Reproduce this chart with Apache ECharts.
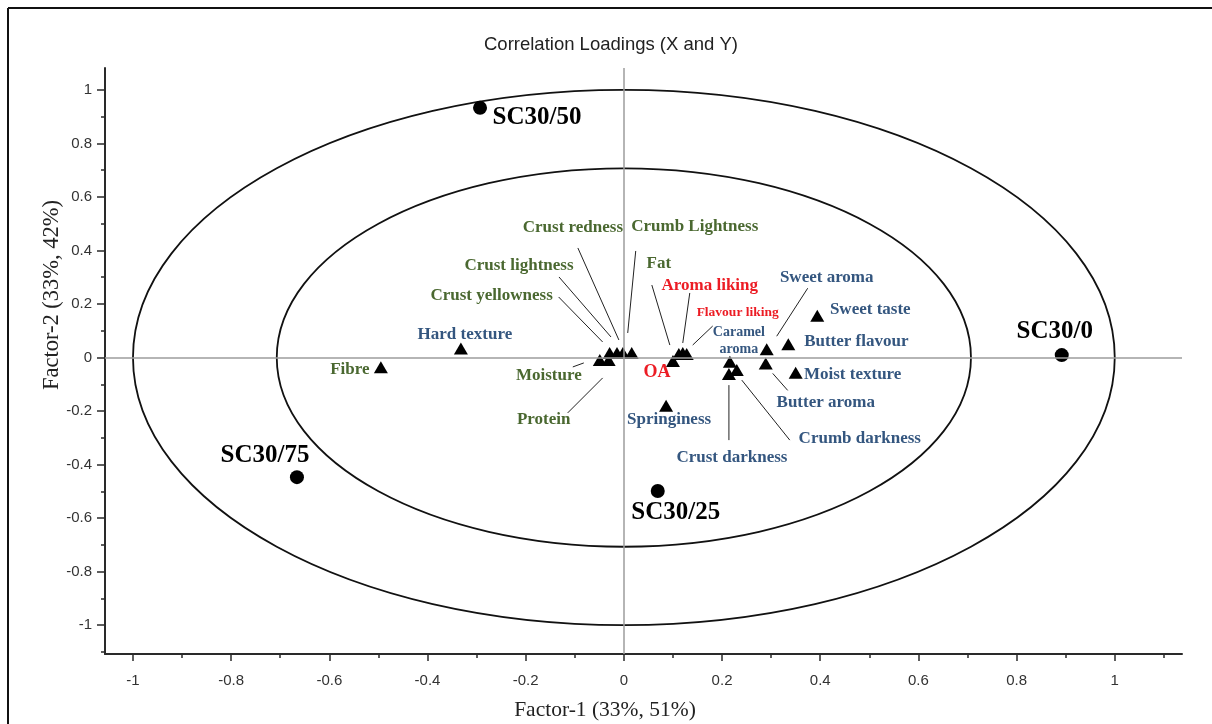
<!DOCTYPE html>
<html>
<head>
<meta charset="utf-8">
<title>Correlation Loadings (X and Y)</title>
<script src="https://cdn.jsdelivr.net/npm/echarts@6/dist/echarts.min.js"></script>
<style>
  html, body { margin: 0; padding: 0; background: #fff; }
  #chart { width: 1212px; height: 724px; }
</style>
</head>
<body>
<div id="chart"></div>
<script>
// Sensory / composition variables (triangles)
const varNames = ['Crust redness', 'Crumb Lightness', 'Crust lightness', 'Crust yellowness', 'Moisture', 'Protein',
  'Fat', 'Aroma liking', 'Flavour liking', 'OA', 'Caramel aroma', 'Sweet aroma', 'Sweet taste', 'Butter flavour',
  'Moist texture', 'Butter aroma', 'Crumb darkness', 'Crust darkness', 'Springiness', 'Hard texture', 'Fibre'];
const varFactor1 = [-0.002, 0.016, -0.014, -0.029, -0.049, -0.031,
  0.112, 0.120, 0.128, 0.100, 0.216, 0.291, 0.394, 0.335,
  0.350, 0.289, 0.230, 0.214, 0.086, -0.332, -0.495];
const varFactor2 = [0.017, 0.017, 0.017, 0.017, -0.009, -0.009,
  0.013, 0.017, 0.013, -0.013, -0.016, 0.031, 0.156, 0.050,
  -0.057, -0.022, -0.047, -0.062, -0.180, 0.034, -0.036];
const varGroup = ['g', 'g', 'g', 'g', 'g', 'g',
  'g', 'r', 'r', 'r', 'b', 'b', 'b', 'b',
  'b', 'b', 'b', 'b', 'b', 'b', 'g'];

// Samples (circles)
const sampleNames = ['SC30/0', 'SC30/25', 'SC30/50', 'SC30/75'];
const sampleFactor1 = [0.892, 0.069, -0.293, -0.666];
const sampleFactor2 = [0.009, -0.499, 0.933, -0.447];

// Correlation circles: 100% and 50% explained variance
const circleRadii = [1, 0.7071];

// Tick values
const majorTicks = [-1, -0.8, -0.6, -0.4, -0.2, 0, 0.2, 0.4, 0.6, 0.8, 1];
const xMinorTicks = [-0.9, -0.7, -0.5, -0.3, -0.1, 0.1, 0.3, 0.5, 0.7, 0.9, 1.1];
const yMinorTicks = [-1.1, -0.9, -0.7, -0.5, -0.3, -0.1, 0.1, 0.3, 0.5, 0.7, 0.9];

// ---- presentation ----
const groupColor = { g: '#4a6830', b: '#34567f', r: '#ec1c24' };
const labelSize = { 'Flavour liking': 13.5, 'Caramel aroma': 14, 'OA': 18 };
const labelText = { 'Caramel aroma': 'Caramel\naroma' };
// label centre offsets from the marker, px
const labelOffset = {
  'Crust redness': [-50, -125], 'Crumb Lightness': [63, -126], 'Crust lightness': [-98, -87],
  'Crust yellowness': [-118, -57], 'Moisture': [-51, 16], 'Protein': [-65, 60],
  'Fat': [-20, -90], 'Aroma liking': [27, -67], 'Flavour liking': [51, -42], 'OA': [-16, 11],
  'Caramel aroma': [9, -21], 'Sweet aroma': [60, -72], 'Sweet taste': [53, -6], 'Butter flavour': [68, -3],
  'Moist texture': [57, 2], 'Butter aroma': [60, 39], 'Crumb darkness': [123, 69], 'Crust darkness': [3, 83],
  'Springiness': [3, 14], 'Hard texture': [4, -14], 'Fibre': [-31, 2]
};
// leader lines [x1, y1, x2, y2] relative to the marker, px
const leaderLines = {
  'Crust redness': [-45, -105, -4, -13], 'Crumb Lightness': [4, -102, -4, -20],
  'Crust lightness': [-58, -76, -6, -16], 'Crust yellowness': [-51, -56, -7, -11],
  'Moisture': [-16, 3, -27, 7], 'Protein': [-6, 18, -41, 53], 'Fat': [-27, -69, -9, -9],
  'Aroma liking': [7, -60, 0, -10], 'Flavour liking': [26, -28, 6, -9],
  'Sweet aroma': [41, -61, 10, -13], 'Butter aroma': [7, 10, 22, 27],
  'Crumb darkness': [5, 10, 53, 70], 'Crust darkness': [0, 11, 0, 66]
};
const sampleOffset = { 'SC30/0': [-7, -24], 'SC30/25': [18, 22], 'SC30/50': [57, 10], 'SC30/75': [-32, -22] };

const serif = '"Liberation Serif", "Times New Roman", serif';
const sans = '"Liberation Sans", Arial, sans-serif';

const varData = varNames.map((n, i) => ({
  name: n,
  value: [varFactor1[i], varFactor2[i], i],
  label: {
    offset: labelOffset[n],
    color: groupColor[varGroup[i]],
    fontSize: labelSize[n] || 17,
    formatter: labelText[n] || n
  }
}));
const sampleData = sampleNames.map((n, i) => ({
  name: n,
  value: [sampleFactor1[i], sampleFactor2[i]],
  label: { offset: sampleOffset[n] }
}));
const leaderData = varNames.map((n, i) => [varFactor1[i], varFactor2[i], i]).filter(d => leaderLines[varNames[d[2]]]);

const axisColor = '#2a2a2a';
const chart = echarts.init(document.getElementById('chart'));
chart.setOption({
  backgroundColor: '#fff',
  animation: false,
  grid: { left: 105, right: 30, top: 68, bottom: 70, containLabel: false },
  xAxis: [
    {
      type: 'value', min: -1.057, max: 1.137,
      axisLine: { show: true, onZero: false, lineStyle: { color: axisColor, width: 2 } },
      axisTick: { show: true, customValues: majorTicks, length: 7, lineStyle: { color: axisColor, width: 1.5 } },
      axisLabel: { customValues: majorTicks, margin: 19, color: '#333', fontSize: 15, fontFamily: sans },
      splitLine: { show: false }
    },
    {
      type: 'value', min: -1.057, max: 1.137, position: 'bottom',
      axisLine: { show: false, onZero: false },
      axisTick: { show: true, customValues: xMinorTicks, length: 4, lineStyle: { color: axisColor, width: 1.5 } },
      axisLabel: { show: false },
      splitLine: { show: false }
    }
  ],
  yAxis: [
    {
      type: 'value', min: -1.108, max: 1.082,
      axisLine: { show: true, onZero: false, lineStyle: { color: axisColor, width: 2 } },
      axisTick: { show: true, customValues: majorTicks, length: 8, lineStyle: { color: axisColor, width: 1.5 } },
      axisLabel: { customValues: majorTicks, margin: 13, color: '#333', fontSize: 15, fontFamily: sans },
      splitLine: { show: false }
    },
    {
      type: 'value', min: -1.108, max: 1.082, position: 'left',
      axisLine: { show: false, onZero: false },
      axisTick: { show: true, customValues: yMinorTicks, length: 4, lineStyle: { color: axisColor, width: 1.5 } },
      axisLabel: { show: false },
      splitLine: { show: false }
    }
  ],
  graphic: [
    { type: 'line', shape: { x1: 8, y1: 8, x2: 1212, y2: 8 }, style: { stroke: '#111', lineWidth: 2 } },
    { type: 'line', shape: { x1: 8, y1: 8, x2: 8, y2: 724 }, style: { stroke: '#111', lineWidth: 2 } },
    {
      type: 'text', x: 611, y: 45,
      style: { text: 'Correlation Loadings (X and Y)', font: '18.5px ' + sans, fill: '#222', textAlign: 'center', textVerticalAlign: 'middle' }
    },
    {
      type: 'text', x: 605, y: 710,
      style: { text: 'Factor-1 (33%, 51%)', font: '21.5px ' + serif, fill: '#222', textAlign: 'center', textVerticalAlign: 'middle' }
    },
    {
      type: 'text', x: 52, y: 295, rotation: Math.PI / 2,
      style: { text: 'Factor-2 (33%, 42%)', font: '22.5px ' + serif, fill: '#222', textAlign: 'center', textVerticalAlign: 'middle' }
    }
  ],
  series: [
    {
      // correlation circles and the zero reference lines
      type: 'custom', name: 'circles',
      data: circleRadii.map(r => [0, 0, r]),
      encode: { x: 0, y: 1 },
      clip: false, silent: true, z: 1,
      renderItem: (params, api) => {
        const c = api.coord([0, 0]);
        const r = api.value(2);
        const e = api.coord([r, r]);
        return {
          type: 'ellipse',
          shape: { cx: c[0], cy: c[1], rx: e[0] - c[0], ry: c[1] - e[1] },
          style: { fill: 'none', stroke: '#111', lineWidth: 1.8 }
        };
      },
      markLine: {
        silent: true, symbol: 'none', animation: false,
        label: { show: false },
        lineStyle: { color: '#9d9d9d', width: 1.5, type: 'solid' },
        data: [{ xAxis: 0 }, { yAxis: 0 }]
      }
    },
    {
      type: 'custom', name: 'leaders',
      data: leaderData,
      encode: { x: 0, y: 1 },
      clip: false, silent: true, z: 2,
      renderItem: (params, api) => {
        const p = api.coord([api.value(0), api.value(1)]);
        const L = leaderLines[varNames[api.value(2)]];
        return {
          type: 'line',
          shape: { x1: p[0] + L[0], y1: p[1] + L[1], x2: p[0] + L[2], y2: p[1] + L[3] },
          style: { stroke: '#222', lineWidth: 1 }
        };
      }
    },
    {
      type: 'scatter', name: 'Variables', z: 3, silent: true,
      symbol: 'triangle', symbolSize: [14, 12],
      itemStyle: { color: '#000', opacity: 1 },
      data: varData,
      label: {
        show: true, position: 'inside', fontWeight: 'bold', fontFamily: serif,
        align: 'center', verticalAlign: 'middle', lineHeight: 17
      }
    },
    {
      type: 'scatter', name: 'Samples', z: 3, silent: true,
      symbol: 'circle', symbolSize: 14,
      itemStyle: { color: '#000', opacity: 1 },
      data: sampleData,
      label: {
        show: true, position: 'inside', formatter: '{b}', color: '#000',
        fontWeight: 'bold', fontFamily: serif, fontSize: 25,
        align: 'center', verticalAlign: 'middle'
      }
    }
  ]
});
</script>
</body>
</html>
